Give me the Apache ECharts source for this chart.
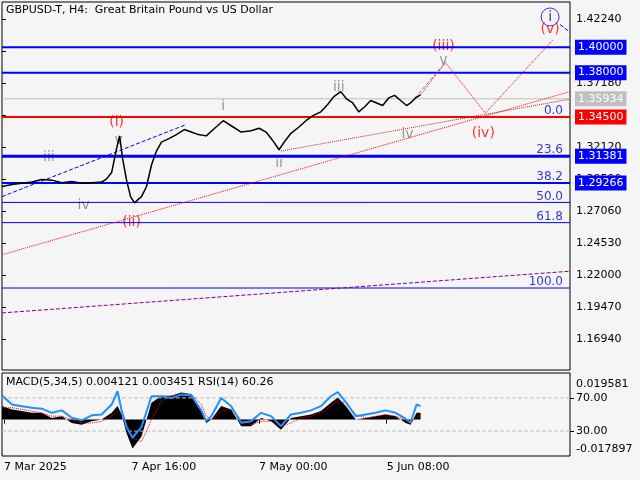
<!DOCTYPE html><html><head><meta charset="utf-8">
<script src="https://cdn.jsdelivr.net/npm/echarts@6/dist/echarts.min.js"></script>
<style>html,body{margin:0;background:#f5f5f5}#c{width:640px;height:480px}</style></head><body><div id="c"></div>
<script>
// price path: [bar index, price]
const priceX=[0,10,20,30,40,50,60,70,80,90,100,105,110,115,118,121,125,129,133,137,140,145,150,155,160,168,175,183,190,197,205,212,222,230,240,250,258,265,272,278,284,290,298,305,312,320,327,333,340,346,352,358,364,370,376,382,388,394,400,406,410,415,420];
const priceY=[1.2900,1.2915,1.2925,1.2935,1.2955,1.2950,1.2930,1.2940,1.2925,1.2930,1.2935,1.2960,1.3010,1.3200,1.3300,1.3120,1.2950,1.2820,1.2770,1.2800,1.2820,1.2900,1.3070,1.3180,1.3250,1.3280,1.3310,1.3350,1.3330,1.3310,1.3300,1.3350,1.3420,1.3380,1.3330,1.3340,1.3360,1.3330,1.3260,1.3190,1.3260,1.3320,1.3370,1.3420,1.3460,1.3490,1.3550,1.3610,1.3650,1.3590,1.3560,1.3490,1.3530,1.3580,1.3560,1.3540,1.3600,1.3620,1.3580,1.3540,1.3560,1.3600,1.3625];
const tickPrices=[1.16940,1.19470,1.22000,1.24530,1.27060,1.29590,1.32120,1.34650,1.37180,1.39710,1.42240];
const levels=[{v:1.40,c:'#0000ff',w:2,tag:'1.40000'},{v:1.38,c:'#0000ff',w:2,tag:'1.38000'},{v:1.35934,c:'#c0c0c0',w:1,tag:'1.35934'},{v:1.345,c:'#ff0000',w:2,tag:'1.34500'},{v:1.31381,c:'#0000ff',w:3,tag:'1.31381'},{v:1.29266,c:'#0000ff',w:2,tag:'1.29266'}];
const fibs=[[0,1.345],[23.6,1.31381],[38.2,1.29266],[50.0,1.2774],[61.8,1.2614],[100.0,1.2097]];
const trendLines=[
 {c:'#0000ff',t:'dashed',p:[[0,1.2820],[185,1.3390]]},
 {c:'#ff0000',t:'dotted',p:[[0,1.2360],[570,1.3650]]},
 {c:'#a52a2a',t:'dotted',p:[[280,1.3180],[570,1.3590]]},
 {c:'#800080',t:'dashed',p:[[0,1.1900],[570,1.2230]]},
 {c:'#808080',t:'dashed',p:[[410,1.3560],[445,1.3880]]},
 {c:'#ff0000',t:'dotted',p:[[420,1.3625],[445,1.3880]]},
 {c:'#ff0000',t:'dotted',p:[[445,1.3880],[485,1.3480]]},
 {c:'#ff0000',t:'dotted',p:[[485,1.3480],[553,1.4060]]},
 {c:'#0000ff',t:'dashed',p:[[560,1.4180],[570,1.4120]]}];
const waveLabels=[['iii',47,1.3130,'#808080'],['iv',82,1.2750,'#808080'],['v',117,1.3265,'#808080'],['i',222,1.3530,'#808080'],['ii',278,1.3080,'#808080'],['iii',338,1.3680,'#808080'],['iv',407,1.3310,'#808080'],['v',443,1.3900,'#808080'],
 ['(i)',115,1.3410,'#ff0000'],['(ii)',130,1.2620,'#ff0000'],['(iii)',443,1.4010,'#ff0000'],['(iv)',483,1.3320,'#ff0000'],['(v)',550,1.4140,'#ff0000']];
const indX=[0,10,20,30,40,50,60,70,80,90,100,110,116,120,125,131,140,150,160,170,180,190,200,205,210,220,230,240,250,260,270,280,290,300,310,320,330,337,345,355,365,375,385,395,405,410,416,420];
const rsi=[73,62,60,58,57,52,55,46,43,49,50,62,78,55,35,22,35,72,72,70,74,73,55,42,48,70,60,40,42,52,48,36,50,52,55,60,72,77,65,48,50,52,55,52,45,40,62,60];
const macd=[0.008,0.006,0.005,0.004,0.004,0.001,0.002,-0.002,-0.003,-0.001,0.000,0.004,0.008,0.003,-0.008,-0.017,-0.010,0.010,0.014,0.014,0.016,0.015,0.005,-0.002,0.000,0.008,0.006,-0.004,-0.004,0.001,-0.001,-0.006,0.001,0.002,0.003,0.005,0.010,0.013,0.008,0.000,0.001,0.002,0.003,0.002,-0.002,-0.003,0.004,0.004];
const signal=[0.007,0.007,0.006,0.005,0.004,0.002,0.002,0.000,-0.002,-0.002,-0.001,0.002,0.005,0.005,-0.002,-0.011,-0.013,0.000,0.011,0.014,0.015,0.015,0.009,0.002,0.000,0.005,0.006,0.000,-0.003,-0.001,-0.001,-0.004,-0.002,0.001,0.002,0.004,0.008,0.011,0.010,0.003,0.001,0.002,0.003,0.002,0.000,-0.002,0.001,0.003];
const rsiLevels=[70,30];
const xTicks=[2,130,258,386], xTickLabels=['7 Mar 2025','7 Apr 16:00','7 May 00:00','5 Jun 08:00'];
const fnt='Tahoma, DejaVu Sans, sans-serif';
const X0=0, X1=570;
const series=[];
fibs.forEach(f=>{ if(f[0]===50||f[0]===61.8||f[0]===100) series.push({type:'line',data:[[X0,f[1]],[X1,f[1]]],showSymbol:false,silent:true,lineStyle:{color:'#0000ff',width:1}});});
levels.forEach(l=>series.push({type:'line',data:[[X0,l.v],[X1,l.v]],showSymbol:false,silent:true,z:3,lineStyle:{color:l.c,width:l.w},
 endLabel:{show:true,formatter:l.tag,backgroundColor:l.c,color:'#fff',padding:[2,3],fontSize:11,fontFamily:fnt,distance:5}}));
trendLines.forEach(t=>series.push({type:'line',data:t.p,showSymbol:false,lineStyle:{color:t.c,type:t.t,width:1},silent:true}));
series.push({type:'line',data:priceX.map((x,i)=>[x,priceY[i]]),showSymbol:false,lineStyle:{color:'#000',width:1.5},z:5});
series.push({type:'scatter',symbolSize:0,data:fibs.map(f=>[568,f[1]]),label:{show:true,position:'insideBottomRight',formatter:p=>fibs[p.dataIndex][0].toFixed(1),color:'#0000dd',fontSize:12,fontFamily:fnt,offset:[0,5],align:'right',verticalAlign:'bottom'}});
series.push({type:'scatter',symbolSize:0,itemStyle:{color:'transparent'},
 label:{show:true,position:'inside',formatter:p=>waveLabels[p.dataIndex][0],fontSize:14,fontFamily:fnt},
 data:waveLabels.map(w=>({value:[w[1],w[2]],label:{color:w[3]}}))});
series.push({type:'scatter',symbol:'circle',symbolSize:18,data:[[550,1.4240]],itemStyle:{color:'transparent',borderColor:'#0000ff',borderWidth:1},label:{show:true,position:'inside',formatter:'i',color:'#0000ff',fontSize:14,fontFamily:fnt}});
rsiLevels.forEach(v=>series.push({type:'line',xAxisIndex:1,yAxisIndex:2,data:[[X0,v],[X1,v]],showSymbol:false,silent:true,lineStyle:{color:'#c0c0c0',type:'dashed',width:1}}));
series.push({type:'line',xAxisIndex:1,yAxisIndex:1,data:indX.map((x,i)=>[x,macd[i]]),showSymbol:false,lineStyle:{width:0},areaStyle:{color:'#000',origin:0,opacity:1}});
series.push({type:'line',xAxisIndex:1,yAxisIndex:1,data:indX.map((x,i)=>[x,signal[i]]),showSymbol:false,lineStyle:{color:'#ff0000',type:'dotted',width:1}});
series.push({type:'line',xAxisIndex:1,yAxisIndex:2,data:indX.map((x,i)=>[x,rsi[i]]),showSymbol:false,lineStyle:{color:'#1e90ff',width:2}});
const chart=echarts.init(document.getElementById('c'));
chart.setOption({backgroundColor:'#f5f5f5',animation:false,
 grid:[{left:2,right:70,top:2,height:368,show:true,borderColor:'#000',borderWidth:1,outerBoundsMode:'none'},{left:2,right:70,top:373,height:83,show:true,borderColor:'#000',borderWidth:1,outerBoundsMode:'none'}],
 xAxis:[{type:'value',min:0,max:570,show:false,gridIndex:0},
  {type:'value',min:0,max:570,gridIndex:1,position:'bottom',axisLine:{show:false},splitLine:{show:false},
   axisTick:{customValues:xTicks,length:4,lineStyle:{color:'#000'},inside:false},
   axisLabel:{customValues:xTicks,formatter:v=>xTickLabels[xTicks.indexOf(v)],color:'#000',fontSize:11,fontFamily:fnt,align:'left',margin:6}}],
 yAxis:[{type:'value',gridIndex:0,position:'right',min:1.14489,max:1.43584,splitLine:{show:false},axisLine:{show:false},
   axisTick:{customValues:tickPrices,length:4,lineStyle:{color:'#000'}},axisLabel:{customValues:tickPrices,formatter:v=>v.toFixed(5),color:'#000',fontSize:11,fontFamily:fnt,margin:6}},
  {type:'value',gridIndex:1,position:'right',min:-0.0215,max:0.0275,show:false},
  {type:'value',gridIndex:1,position:'right',min:0,max:100,splitLine:{show:false},axisLine:{show:false},
   axisTick:{customValues:rsiLevels,length:4,lineStyle:{color:'#000'}},axisLabel:{customValues:rsiLevels,formatter:v=>v.toFixed(2),color:'#000',fontSize:11,fontFamily:fnt,margin:6}}],
 graphic:[
  {type:'text',left:6,top:5,style:{text:'GBPUSD-T, H4:  Great Britain Pound vs US Dollar',fill:'#000',font:'11px '+fnt}},
  {type:'text',left:6,top:377,style:{text:'MACD(5,34,5) 0.004121 0.003451 RSI(14) 60.26',fill:'#000',font:'11px '+fnt}},
  {type:'text',left:576,top:379,style:{text:'0.019581',fill:'#000',font:'11px '+fnt}},
  {type:'text',left:576,top:444,style:{text:'-0.017897',fill:'#000',font:'11px '+fnt}}],
 series});
</script></body></html>
